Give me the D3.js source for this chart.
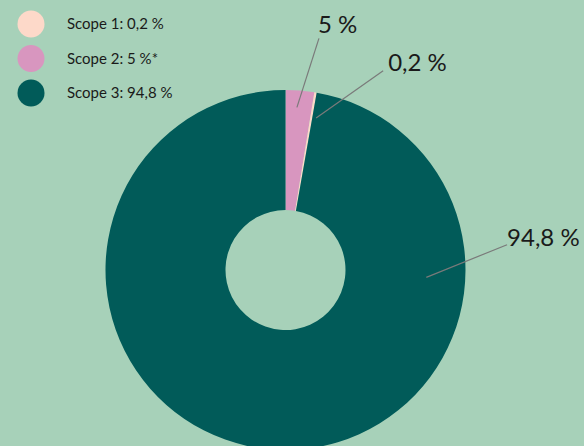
<!DOCTYPE html>
<html>
<head>
<meta charset="utf-8">
<script src="https://cdn.jsdelivr.net/npm/d3@7"></script>
<style>
  html, body { margin: 0; padding: 0; background: #a7d1b9; overflow: hidden; }
  text { font-family: Lato, "Open Sans", sans-serif; fill: #1a1a1a; }
</style>
</head>
<body>
<div id="chart"></div>
<script>
/* DATA */
const scopes = ["Scope 2", "Scope 1", "Scope 3"]
const sliceValues = [2.5, 0.2, 94.8]          // as drawn in the ring
const sliceLabels = ["5 %", "0,2 %", "94,8 %"]
const legendOrder = ["Scope 1", "Scope 2", "Scope 3"]
const legendLabels = ["Scope 1: 0,2 %", "Scope 2: 5 %*", "Scope 3: 94,8 %"]

/* CONSTANTS AND GLOBALS */
const width = 584,
  height = 446,
  cx = 285.5, cy = 270,
  outerR = 180, innerR = 60

const colorScale = d3.scaleOrdinal()
  .domain(["Scope 1", "Scope 2", "Scope 3"])
  .range(["#fdd9c9", "#d896bf", "#015b59"])

const svg = d3.select("#chart")
  .append("svg")
  .attr("width", width)
  .attr("height", height)

const data = scopes.map((s, i) => ({ scope: s, value: sliceValues[i], label: sliceLabels[i] }))

const pie = d3.pie()
  .sort(null)
  .value(d => d.value)

const arc = d3.arc()
  .innerRadius(innerR)
  .outerRadius(outerR)

const g = svg.append("g")
  .attr("transform", `translate(${cx},${cy})`)

const arcs = pie(data)

g.selectAll(".slice")
  .data(arcs)
  .join("path")
  .attr("class", "slice")
  .attr("d", arc)
  .attr("fill", d => colorScale(d.data.scope))

//leader lines: angle offsets from slice middle (deg), radii, text nudge
const leader = {
  "Scope 2": { inAng: -0.6, inR: 163, outAng: 3.6, outR: 234, dx: -1, dy: -5 },
  "Scope 1": { inAng: 1.8, inR: 155, outAng: 16.5, outR: 222, dx: 5, dy: 0 },
  "Scope 3": { inAng: -92, inR: 141, outAng: -101.5, outR: 223, dx: 0, dy: 1 }
}
const rad = deg => deg * Math.PI / 180
const polar = (a, r) => [Math.sin(a) * r, -Math.cos(a) * r]

arcs.forEach(d => {
  const mid = (d.startAngle + d.endAngle) / 2
  const l = leader[d.data.scope]
  const p1 = polar(mid + rad(l.inAng), l.inR)
  const p2 = polar(mid + rad(l.outAng), l.outR)

  g.append("line")
    .attr("x1", p1[0]).attr("y1", p1[1])
    .attr("x2", p2[0]).attr("y2", p2[1])
    .attr("stroke", "#7a7a7a")
    .attr("stroke-width", 1.2)

  g.append("text")
    .attr("x", p2[0] + l.dx)
    .attr("y", p2[1] + l.dy)
    .attr("font-size", "24px")
    .attr("font-weight", 400)
    .text(d.data.label)
})

//legend
const legend = svg.append("g")
  .selectAll(".legend")
  .data(legendOrder)
  .join("g")
  .attr("class", "legend")
  .attr("transform", (d, i) => `translate(31, ${24 + i * 34.5})`)

legend.append("circle")
  .attr("r", 13.5)
  .attr("fill", d => colorScale(d))

legend.append("text")
  .attr("x", 36)
  .attr("y", 5)
  .attr("font-size", "15px")
  .text((d, i) => legendLabels[i])
</script>
</body>
</html>
